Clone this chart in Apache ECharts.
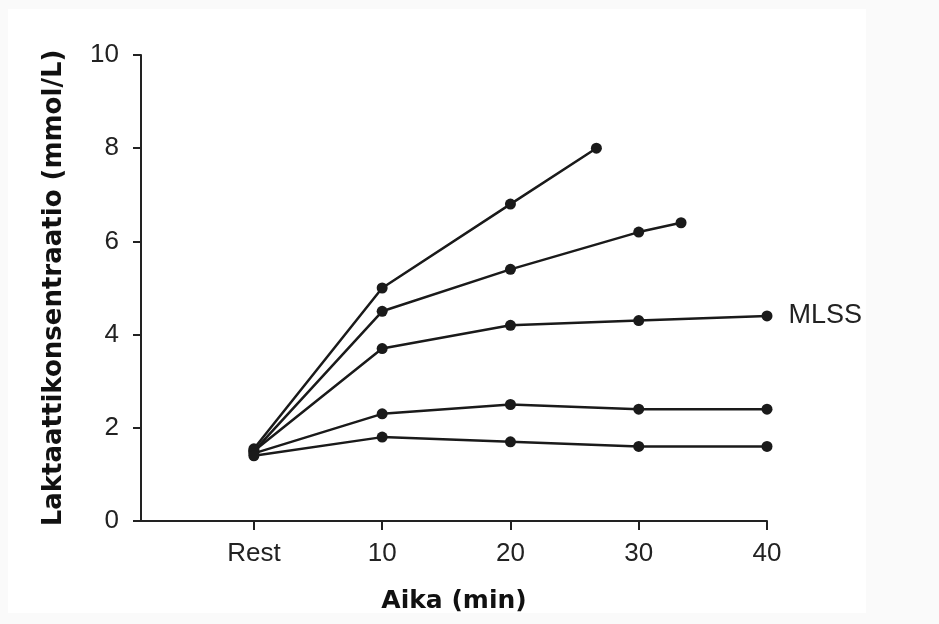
<!DOCTYPE html>
<html>
<head>
<meta charset="utf-8">
<script src="https://cdn.jsdelivr.net/npm/echarts@6/dist/echarts.min.js"></script>
<style>
  html, body { margin: 0; padding: 0; background: #fafafa; }
  #chart { width: 939px; height: 624px; }
</style>
</head>
<body>
<div id="chart"></div>
<script>
// x values: 0 = Rest, then minutes
var xTicks = [0, 10, 20, 30, 40];
var xTickLabels = ['Rest', '10', '20', '30', '40'];

var line1 = [[0, 1.55], [10, 5.0], [20, 6.8], [26.7, 8.0]];
var line2 = [[0, 1.5], [10, 4.5], [20, 5.4], [30, 6.2], [33.3, 6.4]];
var line3 = [[0, 1.5], [10, 3.7], [20, 4.2], [30, 4.3], [40, 4.4]];
var line4 = [[0, 1.45], [10, 2.3], [20, 2.5], [30, 2.4], [40, 2.4]];
var line5 = [[0, 1.4], [10, 1.8], [20, 1.7], [30, 1.6], [40, 1.6]];
var mlssLabel = 'MLSS';

var chart = echarts.init(document.getElementById('chart'));

function makeSeries(data, withLabel) {
  var s = {
    type: 'line',
    data: data,
    symbol: 'circle',
    symbolSize: 11,
    lineStyle: { color: '#1a1a1a', width: 2.5 },
    itemStyle: { color: '#1a1a1a' },
    animation: false,
    z: 3
  };
  if (withLabel) {
    s.data = data.map(function (p, i) {
      if (i === data.length - 1) {
        return {
          value: p,
          label: {
            show: true, position: 'right', distance: 16,
            formatter: mlssLabel,
            fontFamily: 'Liberation Sans', fontSize: 27, color: '#222'
          }
        };
      }
      return p;
    });
  }
  return s;
}

chart.setOption({
  backgroundColor: '#fafafa',
  graphic: [{
    type: 'rect', left: 8, top: 9, z: -10,
    shape: { width: 858, height: 604 },
    style: { fill: '#ffffff' }
  }],
  grid: { left: 141, right: 172, top: 55, bottom: 103 },
  xAxis: {
    type: 'value',
    min: -8.8,
    max: 40,
    name: 'Aika (min)',
    nameLocation: 'middle',
    nameGap: 68,
    nameTextStyle: { fontFamily: 'DejaVu Sans', fontWeight: 'bold', fontSize: 25, color: '#111' },
    axisLine: { lineStyle: { color: '#222', width: 2 } },
    axisTick: { show: true, length: 9, customValues: xTicks, lineStyle: { color: '#222', width: 2 } },
    axisLabel: {
      customValues: xTicks,
      margin: 20,
      fontFamily: 'Liberation Sans', fontSize: 26, color: '#222',
      formatter: function (v) {
        var i = xTicks.indexOf(v);
        return i >= 0 ? xTickLabels[i] : '';
      }
    },
    splitLine: { show: false }
  },
  yAxis: {
    type: 'value',
    min: 0,
    max: 10,
    interval: 2,
    name: 'Laktaattikonsentraatio (mmol/L)',
    nameLocation: 'middle',
    nameGap: 74,
    nameTextStyle: { fontFamily: 'DejaVu Sans', fontWeight: 'bold', fontSize: 26, color: '#111' },
    axisLine: { show: true, onZero: false, lineStyle: { color: '#222', width: 2 } },
    axisTick: { show: true, length: 8, lineStyle: { color: '#222', width: 2 } },
    axisLabel: { margin: 22, fontFamily: 'Liberation Sans', fontSize: 26, color: '#222' },
    splitLine: { show: false }
  },
  series: [
    makeSeries(line1),
    makeSeries(line2),
    makeSeries(line3, true),
    makeSeries(line4),
    makeSeries(line5)
  ]
});
</script>
</body>
</html>
